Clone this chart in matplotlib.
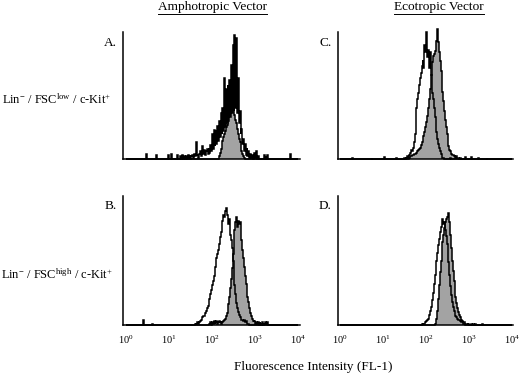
import numpy as np
import matplotlib
matplotlib.use("Agg")
import matplotlib.pyplot as plt
from matplotlib.lines import Line2D

plt.rcParams['font.family'] = ['Liberation Serif', 'DejaVu Serif']
plt.rcParams['mathtext.fontset'] = 'custom'
plt.rcParams['mathtext.rm'] = 'Liberation Serif'
plt.rcParams['mathtext.it'] = 'Liberation Serif:italic'
plt.rcParams['mathtext.bf'] = 'Liberation Serif:bold'

# ---------------- data ----------------
# channel width in decades (log10 fluorescence)
STEP = 0.02
tick_decades = [0, 1, 2, 3, 4]
tick_labels = ['$10^{0}$', '$10^{1}$', '$10^{2}$', '$10^{3}$', '$10^{4}$']

column_titles = ['Amphotropic Vector', 'Ecotropic Vector']
row_labels = [r'Lin$^{-}$ / FSC$^{\rm low}$ / c-Kit$^{+}$',
              r'Lin$^{-}$ / FSC$^{\rm high}$ / c-Kit$^{+}$']
panel_letters = ['A.', 'C.', 'B.', 'D.']
x_label = 'Fluorescence Intensity (FL-1)'

# each histogram: start decade of the first channel, counts per channel,
# plus isolated events (decade, count)
A_open_start = 1.40
A_open = [2, 0, 3, 1, 3, 0, 2, 3, 1, 4, 2, 5, 13, 3, 1, 4, 6, 2, 5, 10,
          4, 7, 3, 6, 8, 4, 9, 5, 11, 6, 20, 8, 23, 10, 22, 12, 26, 14, 30, 17,
          36, 20, 40, 22, 64, 25, 55, 28, 58, 30, 62, 33, 74, 36, 90, 38, 98, 40, 95, 36,
          64, 28, 38, 20, 24, 12, 16, 6, 12, 3, 9, 2, 6, 1, 4, 1, 3, 0, 2, 5,
          1, 6, 0, 2, 0, 0]
A_open_events = [(0.48, 4), (0.70, 3), (0.98, 3), (1.06, 4), (1.20, 3), (1.26, 2),
                 (1.30, 3), (1.36, 2), (3.20, 3), (3.24, 2), (3.28, 3), (3.80, 4)]

A_fill_start = 2.14
A_fill = [0, 2, 5, 8, 11, 14, 17, 20, 22, 25, 27, 30, 33, 35, 37, 38, 39, 40, 38, 35,
          31, 28, 24, 20, 16, 13, 9, 6, 4, 2, 1, 0]

C_open_start = 1.50
C_open = [1, 0, 1, 2, 1, 3, 4, 5, 7, 6, 9, 13, 20, 30, 40, 47, 52, 58, 64, 68,
          73, 78, 72, 90, 84, 100, 80, 86, 76, 72, 84, 66, 52, 47, 40, 33, 27, 21, 16, 12,
          9, 6, 4, 2, 1, 1, 0]
C_open_events = [(0.30, 1), (0.74, 1), (1.04, 1.5), (1.30, 1), (2.56, 1),
                 (2.90, 1.5), (3.04, 1.5), (3.20, 1), (3.40, 1)]

C_fill_start = 1.60
C_fill = [1, 1, 2, 2, 3, 3, 4, 4, 5, 5, 6, 7, 8, 9, 11, 13, 15, 18, 21, 25,
          29, 34, 40, 44, 47, 55, 66, 76, 81, 83, 85, 88, 93, 102, 92, 84, 77, 69, 61, 53,
          46, 38, 31, 25, 20, 14, 10, 7, 6, 4, 3, 3, 2, 2, 1, 2, 1, 1, 0, 1,
          0]

B_open_start = 1.60
B_open = [1, 0, 1, 2, 1, 2, 3, 4, 4, 6, 7, 7, 9, 11, 13, 15, 18, 20, 24, 27,
          31, 34, 38, 40, 45, 52, 55, 58, 63, 68, 72, 76, 81, 85, 84, 88, 91, 85, 80, 78,
          82, 70, 66, 60, 50, 41, 31, 24, 17, 13, 10, 8, 6, 5, 4, 4, 3, 4, 2, 3,
          2, 1, 1, 0]
B_open_events = [(0.40, 4), (0.62, 1)]

B_fill_start = 1.94
B_fill = [1, 2, 0, 2, 1, 3, 1, 2, 3, 1, 2, 3, 2, 1, 3, 2, 3, 4, 5, 7,
          9, 12, 16, 22, 29, 36, 44, 55, 64, 74, 80, 84, 76, 81, 78, 80, 74, 66, 58, 52,
          45, 38, 32, 27, 22, 18, 13, 9, 7, 5, 3, 2, 3, 1, 2, 1, 2, 0, 2, 1,
          0, 2, 0, 1, 2, 0, 1, 2, 0]

D_open_start = 1.90
D_open = [1, 0, 1, 1, 2, 3, 4, 5, 6, 8, 11, 14, 19, 25, 32, 39, 45, 50, 56, 62,
          67, 72, 76, 79, 82, 78, 80, 74, 69, 63, 56, 49, 39, 30, 23, 18, 14, 11, 9, 7,
          6, 5, 4, 4, 3, 3, 2, 2, 1, 1, 0]
D_open_events = [(3.10, 1), (3.30, 1)]

D_fill_start = 2.18
D_fill = [0, 1, 2, 5, 11, 20, 31, 41, 50, 57, 64, 70, 75, 80, 82, 84, 85, 87, 80, 70,
          60, 50, 42, 34, 28, 22, 17, 13, 10, 8, 6, 5, 4, 3, 2, 2, 1, 1, 1, 0,
          1, 0, 0, 1, 0, 1, 0, 0, 1, 0]

panels = [
    (A_fill_start, A_fill, [], A_open_start, A_open, A_open_events),
    (C_fill_start, C_fill, [], C_open_start, C_open, C_open_events),
    (B_fill_start, B_fill, [], B_open_start, B_open, B_open_events),
    (D_fill_start, D_fill, [], D_open_start, D_open, D_open_events),
]

edges = np.round(np.arange(0, 4 + STEP / 2, STEP), 4)
n_bins = len(edges) - 1


def build(start, values, events):
    counts = np.zeros(n_bins)
    i0 = int(round(start / STEP))
    for k, v in enumerate(values):
        if 0 <= i0 + k < n_bins:
            counts[i0 + k] = v
    for pos, v in events:
        counts[int(round(pos / STEP))] = v
    return counts


# ---------------- figure ----------------
W, H = 520, 374
fig = plt.figure(figsize=(W / 100, H / 100), dpi=100)


def px_axes(x0, x1, ytop, ybot):
    return fig.add_axes([x0 / W, (H - ybot) / H, (x1 - x0) / W, (ybot - ytop) / H])


axes = [px_axes(123, 300, 32, 159), px_axes(338, 513, 32, 159),
        px_axes(123, 300, 196, 325), px_axes(338, 513, 196, 325)]
xlims = [(-0.058, 4.035), (-0.035, 4.012), (-0.058, 4.035), (-0.035, 4.012)]

for idx, (ax, p) in enumerate(zip(axes, panels)):
    fs, fv, fe, os_, ov, oe = p
    fill_counts = build(fs, fv, fe)
    open_counts = build(os_, ov, oe)
    ax.stairs(fill_counts, edges, fill=True, color='#a3a3a3', zorder=1, clip_on=False)
    ax.stairs(fill_counts, edges, fill=False, color='black', linewidth=1.1,
              zorder=2, clip_on=False)
    ax.stairs(open_counts, edges, fill=False, color='black', linewidth=1.1,
              zorder=3, clip_on=False)
    ax.set_xlim(*xlims[idx])
    ax.set_ylim(0, 100)
    for s in ['top', 'right']:
        ax.spines[s].set_visible(False)
    for s in ['left', 'bottom']:
        ax.spines[s].set_linewidth(1.1)
        ax.spines[s].set_color('black')
    ax.set_yticks([])
    ax.set_xticks(tick_decades)
    if idx >= 2:
        ax.set_xticklabels(tick_labels, fontsize=7.5)
    else:
        ax.set_xticklabels([])
    ax.tick_params(axis='x', length=0, pad=6)
    ax.set_facecolor('none')

# titles (underlined)
title_pos = [(212, 7), (439, 7)]
title_artists = []
for t, (x, y) in zip(column_titles, title_pos):
    title_artists.append(fig.text(x / W, (H - y) / H, t, ha='center', va='center',
                                  fontsize=9.6))

# row labels
for t, y in zip(row_labels, [100, 275]):
    fig.text(56.5 / W, (H - y) / H, t, ha='center', va='center', fontsize=8.9)

# panel letters
letter_pos = [(110.5, 43), (325.5, 43), (110.5, 206), (325.5, 206)]
for t, (x, y) in zip(panel_letters, letter_pos):
    fig.text(x / W, (H - y) / H, t, ha='center', va='center', fontsize=9.5)

fig.text(313 / W, (H - 367) / H, x_label, ha='center', va='center', fontsize=9.5)

fig.canvas.draw()
renderer = fig.canvas.get_renderer()
for ta in title_artists:
    bb = ta.get_window_extent(renderer)
    yline = bb.y0 - 1.0
    fig.add_artist(Line2D([bb.x0 / W, bb.x1 / W], [yline / H, yline / H],
                          transform=fig.transFigure, color='black', linewidth=0.7))

fig.savefig('out.png', dpi=100)
